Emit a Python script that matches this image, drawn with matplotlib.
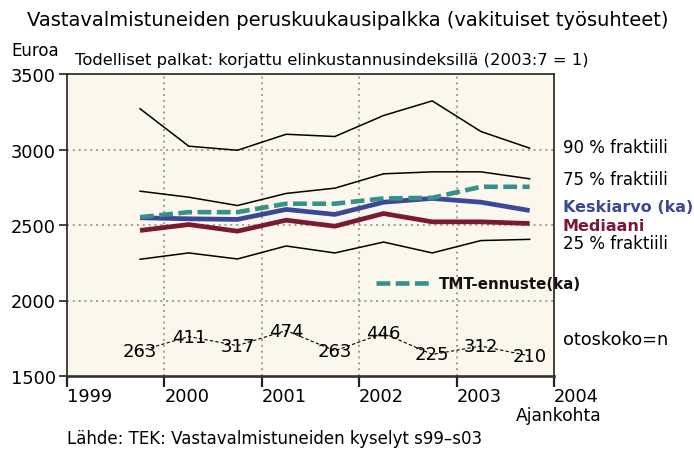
import matplotlib
matplotlib.use("Agg")
import matplotlib.pyplot as plt
import numpy as np

plt.rcParams['font.family'] = ['DejaVu Sans']

# ---- data ----
periods = [1999.75, 2000.25, 2000.75, 2001.25, 2001.75, 2002.25, 2002.75, 2003.25, 2003.75]
p90 = [3270, 3022, 2995, 3101, 3086, 3225, 3322, 3119, 3009]
p75 = [2724, 2684, 2629, 2709, 2744, 2839, 2852, 2852, 2806]
tmt = [2552, 2585, 2585, 2641, 2641, 2676, 2680, 2753, 2753]
mean = [2548, 2541, 2537, 2603, 2570, 2651, 2676, 2651, 2596]
median = [2464, 2503, 2459, 2532, 2492, 2576, 2521, 2521, 2510]
p25 = [2273, 2315, 2275, 2361, 2315, 2387, 2315, 2397, 2405]
n_sample = [263, 411, 317, 474, 263, 446, 225, 312, 210]
years = [1999, 2000, 2001, 2002, 2003, 2004]
yticks = [1500, 2000, 2500, 3000, 3500]

BLUE = '#3c4795'
RED = '#7a1933'
TEAL = '#35918a'

fig = plt.figure(figsize=(6.94, 4.52), dpi=100)
ax = fig.add_axes([67/694, 1-377/452, (554-67)/694, (377-75)/452])
ax.set_facecolor('#fbf7ed')
ax.set_xlim(1999, 2004)
ax.set_ylim(1500, 3500)

grid_kw = dict(color='#a19d95', lw=1.4, ls=(0, (1, 2)), zorder=1)
for v in yticks[1:-1]:
    ax.axhline(v, **grid_kw)
for yr in years[1:-1]:
    ax.axvline(yr, **grid_kw)

ax.plot(periods, p90, color='black', lw=1.1, zorder=3)
ax.plot(periods, p75, color='black', lw=1.1, zorder=3)
ax.plot(periods, p25, color='black', lw=1.1, zorder=3)
ax.plot(periods, mean, color=BLUE, lw=3.4, zorder=4, solid_capstyle='butt')
ax.plot(periods, median, color=RED, lw=3.4, zorder=4, solid_capstyle='butt')
ax.plot(periods, tmt, color=TEAL, lw=3.3, ls=(0, (3, 1.2)), zorder=5)

# sample sizes
n_scale = 0.635
ny = [1500 + n * n_scale for n in n_sample]
ax.plot(periods, ny, color='black', lw=0.8, ls=(0, (3, 2)), zorder=3)
for x, y, n in zip(periods, ny, n_sample):
    ax.text(x, y, str(n), ha='center', va='center', fontsize=13, zorder=6)

# legend TMT
ax.plot([2002.17, 2002.72], [2115, 2115], color=TEAL, lw=3.3, ls=(0, (3, 1.2)),
        clip_on=False, zorder=5)
ax.text(2002.82, 2115, 'TMT-ennuste(ka)', ha='left', va='center', fontsize=10.8,
        fontweight='bold', color='#111111', clip_on=False, zorder=6)

# axes styling
ax.set_xticks(years)
ax.set_xticklabels([str(y) for y in years], ha='left', fontsize=12.8)
ax.set_yticks(yticks)
ax.set_yticklabels([str(v) for v in yticks], fontsize=12.8)
ax.tick_params(axis='x', direction='out', length=8, width=1.6, pad=0, color='#222222')
ax.tick_params(axis='y', direction='out', length=6, width=1.2, pad=2, color='#222222')
for s in ax.spines.values():
    s.set_color('#222222')
    s.set_linewidth(1.2)
ax.spines['bottom'].set_linewidth(1.9)
ax.spines['bottom'].set_color('#333333')

# right-side labels
tx = 563
def fy(py):
    return 1 - py / 452
fig.text(tx/694, fy(148), '90 % fraktiili', fontsize=12, va='center')
fig.text(tx/694, fy(180), '75 % fraktiili', fontsize=12, va='center')
fig.text(tx/694, fy(208), 'Keskiarvo (ka)', fontsize=11.5, va='center', fontweight='bold', color=BLUE)
fig.text(tx/694, fy(227), 'Mediaani', fontsize=11.5, va='center', fontweight='bold', color=RED)
fig.text(tx/694, fy(244), '25 % fraktiili', fontsize=12, va='center')
fig.text(tx/694, fy(340), 'otoskoko=n', fontsize=12.8, va='center')

fig.text(27/694, fy(20), 'Vastavalmistuneiden peruskuukausipalkka (vakituiset työsuhteet)',
         fontsize=14, va='center')
fig.text(11/694, fy(51), 'Euroa', fontsize=12, va='center')
fig.text(75/694, fy(61), 'Todelliset palkat: korjattu elinkustannusindeksillä (2003:7 = 1)',
         fontsize=11.8, va='center')
fig.text(601/694, fy(416), 'Ajankohta', fontsize=12.3, va='center', ha='right')
fig.text(67/694, fy(439), 'Lähde: TEK: Vastavalmistuneiden kyselyt s99–s03', fontsize=12, va='center')

fig.savefig('out.png', dpi=100, facecolor='white')
